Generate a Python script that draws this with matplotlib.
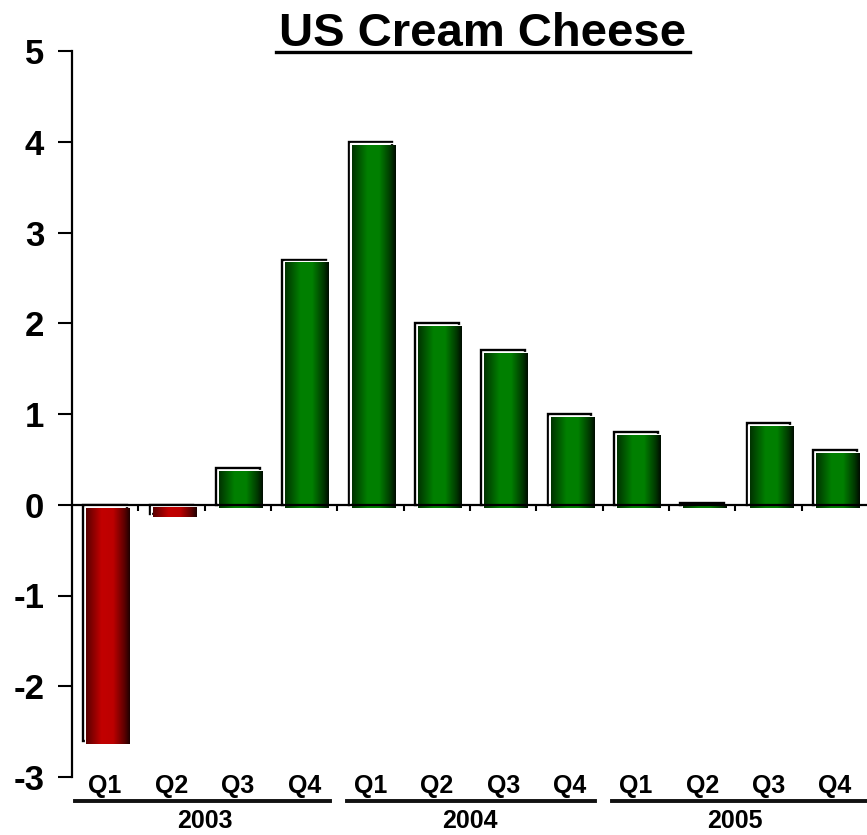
import numpy as np
import matplotlib
matplotlib.use("Agg")
import matplotlib.pyplot as plt
from matplotlib.colors import LinearSegmentedColormap
from matplotlib.patches import Rectangle
from matplotlib.lines import Line2D
from matplotlib.transforms import ScaledTranslation

plt.rcParams["font.family"] = ["Liberation Sans", "DejaVu Sans"]
plt.rcParams["font.weight"] = "bold"

# data
years = ["2003", "2004", "2005"]
quarters = ["Q1", "Q2", "Q3", "Q4"]
values = [-2.6, -0.1, 0.4, 2.7,
          4.0, 2.0, 1.7, 1.0,
          0.8, 0.02, 0.9, 0.6]
yticks = [-3, -2, -1, 0, 1, 2, 3, 4, 5]

green = LinearSegmentedColormap.from_list("g", [
    (0.0, (0.0, 0.20, 0.0)), (0.35, (0.0, 0.50, 0.0)), (0.62, (0.0, 0.50, 0.0)),
    (0.88, (0.0, 0.22, 0.0)), (1.0, (0.0, 0.05, 0.0))])
red = LinearSegmentedColormap.from_list("r", [
    (0.0, (0.35, 0.0, 0.0)), (0.35, (0.76, 0.0, 0.0)), (0.62, (0.74, 0.0, 0.0)),
    (0.88, (0.36, 0.0, 0.0)), (1.0, (0.12, 0.0, 0.0))])

fig = plt.figure(figsize=(8.67, 8.35), dpi=100)
ax = fig.add_axes([72 / 867, 58 / 835, 796 / 867, 726 / 835])

x = np.arange(len(values))
w = 0.66
grad = np.linspace(0, 1, 128)[None, :]
px = 1 / 100
shift_fill = ax.transData + ScaledTranslation(3 * px, -3 * px, fig.dpi_scale_trans)
shift_hi = ax.transData + ScaledTranslation(1.6 * px, -1.6 * px, fig.dpi_scale_trans)

for xi, v in zip(x, values):
    cmap = green if v >= 0 else red
    # black frame with a white inner highlight at the nominal position
    ax.add_patch(Rectangle((xi - w / 2, 0), w, v, fill=False, ec="black", lw=1.7, zorder=2))
    ax.add_patch(Rectangle((xi - w / 2, 0), w, v, fill=False, ec="white", lw=0.9,
                           zorder=2.1, transform=shift_hi))
    # gradient body, shifted down/right so it reads as a drop shadow
    im = ax.imshow(grad, cmap=cmap, aspect="auto", interpolation="bilinear",
                   extent=(xi - w / 2, xi + w / 2, 0, v), zorder=3)
    im.set_transform(shift_fill)

ax.set_xlim(-0.5, len(values) - 0.5)
ax.set_ylim(-3, 5)

for s in ["top", "right"]:
    ax.spines[s].set_visible(False)
ax.spines["left"].set_linewidth(1.6)
ax.spines["bottom"].set_position(("data", 0))
ax.spines["bottom"].set_linewidth(1.6)
ax.spines["bottom"].set_zorder(5)

ax.set_yticks(yticks)
ax.set_yticklabels([str(t) for t in yticks])
ax.tick_params(axis="y", direction="out", length=10, width=1.5, pad=10, labelsize=25)
ax.set_xticks(x[:-1] + 0.5)
ax.set_xticklabels([])
ax.tick_params(axis="x", direction="out", length=4.5, width=1.5)

# category labels under the plot
xt = ("data", "axes fraction")
n = len(values)
for i, xi in enumerate(x):
    ax.annotate(quarters[i % 4], xy=(xi, 0), xycoords=xt, xytext=(0, -6.5),
                textcoords="offset points", ha="center", va="center",
                fontsize=18, annotation_clip=False)
line_tr = ax.get_xaxis_transform() + ScaledTranslation(0, -17.5 / 72, fig.dpi_scale_trans)
for j, yr in enumerate(years):
    first, last = 4 * j, 4 * j + 3
    x0 = -0.45 if j == 0 else first - 0.5 + 0.14
    x1 = n - 0.5 if j == len(years) - 1 else last + 0.5 - 0.11
    ax.add_line(Line2D([x0, x1], [0, 0], transform=line_tr,
                       color="#111111", lw=2.8, clip_on=False))
    ax.annotate(yr, xy=((first + last) / 2, 0), xycoords=xt, xytext=(0, -31.5),
                textcoords="offset points", ha="center", va="center",
                fontsize=18, annotation_clip=False)

# underlined title
title = fig.text(0.557, 1 - 46 / 835, "US Cream Cheese", ha="center", va="baseline",
                 fontsize=34, fontweight="bold")
fig.canvas.draw()
bb = title.get_window_extent().transformed(fig.transFigure.inverted())
fig.add_artist(Line2D([bb.x0 - 0.004, bb.x1 + 0.004], [1 - 52 / 835] * 2,
                      transform=fig.transFigure, color="black", lw=2.4))

fig.savefig("out.png", dpi=100)
